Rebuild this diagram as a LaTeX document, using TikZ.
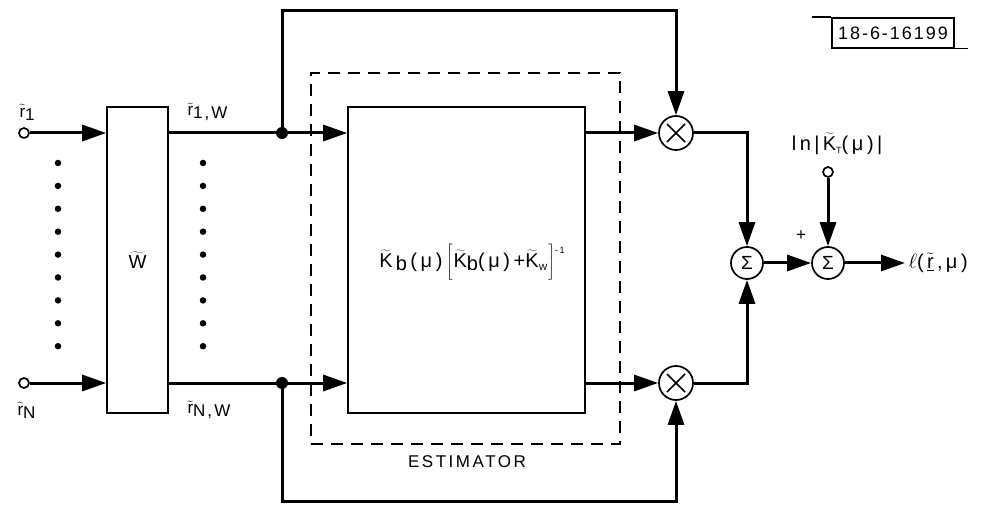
\documentclass[tikz,border=0pt]{standalone}
\usepackage{fontspec}
\setmainfont{Liberation Sans}
\usetikzlibrary{arrows.meta,calc}
\newcommand\tl[1]{$\widetilde{\mbox{#1}}$}
\newcommand\tlr{$\tilde{\mbox{r}}$}
\newcommand\lo[1]{\raisebox{-3pt}{#1}}
\newcommand\brL{$\left[\rule[-9pt]{0pt}{31pt}\right.$}
\newcommand\brR{$\left.\rule[-9pt]{0pt}{31pt}\right]$}
\begin{document}
\begin{tikzpicture}[x=1pt,y=-1pt,
  wire/.style={line width=3pt},
  arr/.style={wire,-{Triangle[length=24pt,width=16pt]}},
  blk/.style={draw,line width=1.6pt,inner sep=0pt},
  circ/.style={circle,draw,line width=1.7pt,minimum size=34pt,inner sep=0pt},
  sumc/.style={circle,draw,line width=1.7pt,minimum size=32pt,inner sep=0pt,font=\fontsize{19}{21}\selectfont},
  term/.style={circle,draw,line width=1.7pt,fill=white,minimum size=10pt,inner sep=0pt},
  jdot/.style={circle,fill,minimum size=12pt,inner sep=0pt},
  dotm/.style={circle,fill,minimum size=6.5pt,inner sep=0pt},
  lbl/.style={font=\fontsize{17}{20}\selectfont\addfontfeatures{LetterSpace=12}},
  bigl/.style={font=\fontsize{20}{24}\selectfont\addfontfeatures{LetterSpace=18}},
]
\useasboundingbox (0,0) rectangle (986,505);
% blocks
\node[blk,minimum width=61pt,minimum height=306pt,font=\fontsize{19}{22}\selectfont] (W) at (137.5,260) {\tl{W}};
\node[blk,minimum width=237pt,minimum height=306pt] (K) at (466.5,260) {};
\node[bigl] (kt) at (472,262)
  {\tl{K}\,\lo{b}\,(μ)\,\brL\tl{K}\lo{b}(μ)+\tl{K}\lo{\small W}\brR\raisebox{14pt}{\small -1}};
\node[draw,dashed,dash pattern=on 12pt off 8pt,line width=1.5pt,minimum width=309pt,minimum height=371pt,inner sep=0pt] (est) at (465.5,258.5) {};
\node[font=\fontsize{17}{20}\selectfont\addfontfeatures{LetterSpace=15}] (estl) at (467,462) {ESTIMATOR};
% terminals
\node[term] (t1) at (24,133) {};
\node[term] (tn) at (24,383) {};
\node[lbl,anchor=west] (l1) at (16,112) {\tlr\lo{1}};
\node[lbl,anchor=west] (ln) at (14,410) {\tlr\lo{N}};
\node[lbl,anchor=west] (l1w) at (184,112) {\tlr\lo{1,W}};
\node[lbl,anchor=west] (lnw) at (184,410) {\tlr\lo{N,W}};
% dots
\foreach \i in {0,...,8}{
  \node[dotm] (dl\i) at (58,163+22.9*\i) {};
  \node[dotm] (dr\i) at (203,163+22.9*\i) {};
}
% junctions
\node[jdot] (j1) at (282,133) {};
\node[jdot] (j2) at (282,383) {};
% multipliers
\node[circ] (m1) at (676,133) {};
\node[circ] (m2) at (676,383) {};
\foreach \m in {m1,m2}{
  \draw[line width=1.5pt] ($(\m)+(-9,-9)$) -- ($(\m)+(9,9)$);
  \draw[line width=1.5pt] ($(\m)+(-9,9)$) -- ($(\m)+(9,-9)$);
}
% sums
\node[sumc] (s1) at (747,263) {Σ};
\node[sumc] (s2) at (828,263) {Σ};
\node[term] (t3) at (828,172) {};
\node[bigl] (lk) at (837,144) {ln\,|\,\tl{K}\lo{\small T}(μ)\,|};
\node[lbl] (plus) at (801,236) {+};
\coordinate (out) at (905,263);
\node[bigl,anchor=west] (lout) at (out) {$\ell$(\,$\underline{\tilde{\mbox{r}}}$\,,\,μ)};
% tag
\node[draw,line width=1.5pt,minimum width=122pt,minimum height=30pt,inner sep=0pt,
  font=\fontsize{18}{20}\selectfont\addfontfeatures{LetterSpace=11}] (tag) at (893,33) {18-6-16199};
\draw[line width=1.5pt] (tag.north west) -- ++(-19,0);
\draw[line width=1.5pt] (tag.south east) -- ++(13,0);
% connectors
\draw[arr] (t1) -- (t1 -| W.west);
\draw[arr] (tn) -- (tn -| W.west);
\draw[wire] (W.east |- j1) -- (j1.center);
\draw[wire] (W.east |- j2) -- (j2.center);
\draw[arr] (j1.center) -- (K.west |- j1);
\draw[arr] (j2.center) -- (K.west |- j2);
\draw[arr] (j1.center) -- ++(0,-122) -| (m1.north);
\draw[arr] (j2.center) -- ++(0,118) -| (m2.south);
\draw[arr] (K.east |- m1) -- (m1.west);
\draw[arr] (K.east |- m2) -- (m2.west);
\draw[arr] (m1.east) -| (s1.north);
\draw[arr] (m2.east) -| (s1.south);
\draw[arr] (s1) -- (s2);
\draw[arr] (t3) -- (s2);
\draw[arr] (s2) -- (out);
\end{tikzpicture}
\end{document}
